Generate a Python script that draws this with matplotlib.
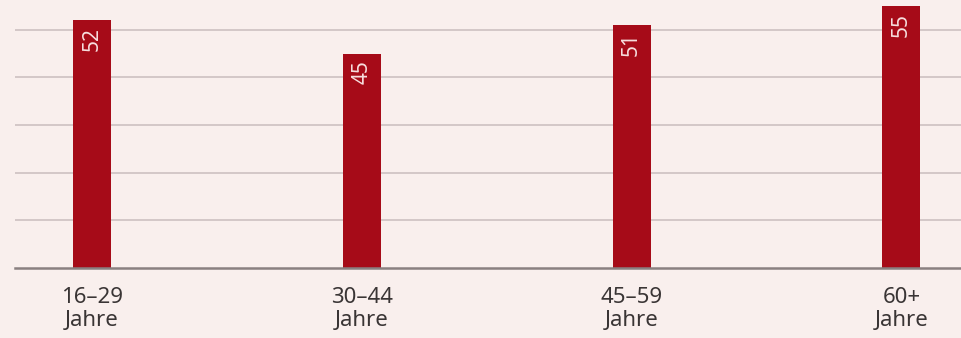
import matplotlib.pyplot as plt

# values
categories = ["16–29\nJahre", "30–44\nJahre", "45–59\nJahre", "60+\nJahre"]
values = [52, 45, 51, 55]

bg = "#f9efed"
bar_color = "#a60b18"

plt.rcParams['font.family'] = ['Noto Sans', 'DejaVu Sans']

fig = plt.figure(figsize=(9.61, 3.38), dpi=100, facecolor=bg)
ax = fig.add_axes([15 / 961, 70 / 338, 946 / 961, 268 / 338], facecolor=bg)

x = list(range(len(values)))
ax.bar(x, values, width=0.141, color=bar_color, zorder=3)

for xi, v in zip(x, values):
    ax.annotate(str(v), (xi, v), xytext=(0, -5), textcoords="offset points",
                rotation=90, ha="center", va="top", fontsize=15,
                color="#f7dede", fontweight="light", zorder=4)

ax.set_xlim(-0.285, 3.221)
ax.set_ylim(0, 56.25)
ax.set_yticks([10, 20, 30, 40, 50])
ax.yaxis.grid(True, color="#c9bdbd", linewidth=1.1, zorder=0)
ax.set_yticklabels([])
ax.tick_params(axis="y", length=0)

ax.set_xticks(x)
ax.set_xticklabels(categories, fontsize=16, color="#3a3535",
                   linespacing=1.12, fontweight="light")
ax.tick_params(axis="x", length=0, pad=14)

for side in ["top", "right", "left"]:
    ax.spines[side].set_visible(False)
ax.spines["bottom"].set_color("#8a8080")
ax.spines["bottom"].set_linewidth(1.8)
ax.spines["bottom"].set_zorder(5)

fig.savefig("out.png", dpi=100, facecolor=bg)
